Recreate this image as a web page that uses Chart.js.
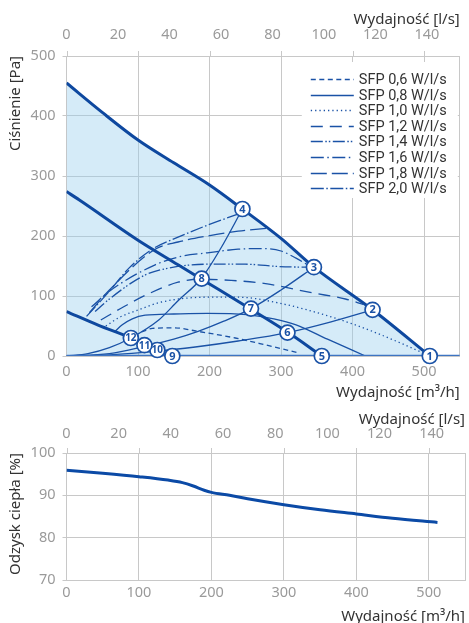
<!DOCTYPE html>
<html lang="pl">
<head>
<meta charset="utf-8">
<title>Wydajność / ciśnienie</title>
<script src="https://cdn.jsdelivr.net/npm/chart.js@4.4.1/dist/chart.umd.min.js"></script>
<style>
    html, body { margin: 0; padding: 0; background: #fff; overflow: hidden; }
    #pressureBox { position: absolute; left: 0; top: 0; width: 469px; height: 405px; }
    #recoveryBox { position: absolute; left: 0; top: 405px; width: 469px; height: 225px; }
</style>
</head>
<body>
<div id="pressureBox"><canvas id="pressureChart" width="469" height="405"></canvas></div>
<div id="recoveryBox"><canvas id="recoveryChart" width="469" height="225"></canvas></div>
<script>
// flow in m3/h, pressure in Pa
const FLOW_MAX = 550;
const LS_FACTOR = 3.6;   // m3/h -> l/s
const flowTicks = [0, 100, 200, 300, 400, 500];
const lsTicks = [0, 20, 40, 60, 80, 100, 120, 140];

// working range limits (thick lines)
const envelope = [[0,455],[50,406],[100,360],[150,322],[200,285],[246,245],[300,196],[346,148],[428,77],[508,0]];
const middleLimit = [[0,274],[18,260],[100,193],[156,152],[189,128],[258,78],[309,40],[357,0]];
const lowerLimit = [[0,74],[45,51],[90,30],[109,18],[127,10],[148,0]];

// system curves (thin solid)
const systemA = [[0,0],[30,4],[60,14],[90,30],[129,60],[156,92],[189,130],[216,180],[246,245]];
const systemB = [[0,0],[60,4],[109,16],[150,28],[184,41],[220,58],[258,79],[300,110],[346,148]];
const systemC = [[0,0],[60,2],[127,8],[180,15],[240,25],[309,39],[370,57],[428,77]];
const zeroLine = [[0,0],[550,0]];

// SFP lines
const sfpLabels = ['SFP 0,6 W/l/s','SFP 0,8 W/l/s','SFP 1,0 W/l/s','SFP 1,2 W/l/s',
                   'SFP 1,4 W/l/s','SFP 1,6 W/l/s','SFP 1,8 W/l/s','SFP 2,0 W/l/s'];
const sfp06 = [[105,40],[120,46],[150,47],[184,41],[236,30],[280,18],[325,5]];
const sfp08 = [[67,40],[78,52],[92,62],[110,68],[150,70],[197,71],[252,69],[290,62],[321,52],[365,28],[418,0]];
const sfp10 = [[55,50],[75,65],[101,77],[133,90],[197,98],[240,98],[298,88],[376,63],[430,40],[505,2]];
const sfp12 = [[48,60],[80,82],[110,101],[156,123],[188,128],[230,126],[276,121],[345,105],[390,95],[415,86]];
const sfp14 = [[40,74],[60,95],[110,135],[150,148],[197,153],[250,153],[298,149],[340,148]];
const sfp16 = [[35,82],[60,108],[124,152],[160,166],[197,172],[240,178],[276,179],[300,175],[321,163],[340,150]];
const sfp18 = [[32,72],[60,110],[124,178],[156,190],[197,200],[240,208],[282,213]];
const sfp20 = [[28,66],[60,108],[87,146],[120,178],[156,198],[197,218],[243,238]];
const sfpSeries = [sfp06, sfp08, sfp10, sfp12, sfp14, sfp16, sfp18, sfp20];
const sfpDashes = [[5,3.5],[],[1.3,3],[12,7],[12,2.5,1.5,2,1.5,2.5],[13,3.5,1.5,3.5],[16,5],[13,2.5,1.5,2.5]];

// numbered operating points
const markerNumbers = [1,2,3,4,5,6,7,8,9,10,11,12];
const markerPoints = [[508,0],[428,77],[346,148],[246,245],[357,0],[309,39],[258,79],[189,129],[148,0],[127,10],[109,18],[90,30]];

// heat recovery [%]
const recovery = [[0,95.9],[50,95.2],[100,94.4],[140,93.6],[160,93.0],[175,92.2],[190,91.2],[200,90.7],
                  [225,90.0],[250,89.2],[300,87.8],[350,86.6],[400,85.6],[450,84.6],[512,83.6]];

const BLUE = '#1a52a6';
const DARK_BLUE = '#0e489f';
const GRID = '#c8c8c8';
const TICK = '#9a9a9a';
const TEXT = '#333333';

Chart.defaults.font.family = "'Noto Sans', 'Open Sans', sans-serif";

const pts = arr => arr.map(p => ({ x: p[0], y: p[1] }));

function line(data, color, width, order, extra) {
    return Object.assign({
        data: pts(data),
        borderColor: color,
        borderWidth: width,
        pointRadius: 0,
        fill: false,
        cubicInterpolationMode: 'monotone',
        order: order
    }, extra || {});
}

// short grid stubs above the plot (m3/h grid lines stick out)
const gridStubs = {
    id: 'gridStubs',
    afterDraw(chart) {
        const { ctx, chartArea, scales } = chart;
        ctx.save();
        ctx.strokeStyle = GRID;
        ctx.lineWidth = 1;
        flowTicks.forEach(v => {
            const px = Math.round(scales.x.getPixelForValue(v)) + 0.5;
            ctx.beginPath();
            ctx.moveTo(px, chartArea.top - 5);
            ctx.lineTo(px, chartArea.top);
            ctx.stroke();
        });
        ctx.restore();
    }
};

// numbers inside the circles + SFP legend box
const pressureExtras = {
    id: 'pressureExtras',
    afterDatasetsDraw(chart) {
        const { ctx } = chart;
        const meta = chart.getDatasetMeta(0);
        ctx.save();
        ctx.fillStyle = BLUE;
        ctx.textAlign = 'center';
        ctx.textBaseline = 'middle';
        meta.data.forEach((el, i) => {
            const n = markerNumbers[i];
            ctx.font = n > 9 ? "bold 10px 'Noto Sans', sans-serif" : "bold 11px 'Noto Sans', sans-serif";
            ctx.fillText(String(n), el.x, el.y + 0.5);
        });
        ctx.restore();
    },
    afterDraw(chart) {
        const { ctx, chartArea } = chart;
        const right = chartArea.right;
        const top = chartArea.top;
        ctx.save();
        ctx.fillStyle = '#fff';
        ctx.fillRect(right - 158, top + 6, 156, 136);
        ctx.font = "14.5px Roboto, 'Noto Sans', sans-serif";
        ctx.textBaseline = 'middle';
        ctx.textAlign = 'left';
        chart.data.datasets.filter(d => d.sfp).forEach((ds, i) => {
            const y = Math.round(top + 23 + i * 15.6) + 0.5;
            ctx.strokeStyle = ds.borderColor;
            ctx.lineWidth = 1.4;
            ctx.setLineDash(ds.borderDash || []);
            ctx.beginPath();
            ctx.moveTo(right - 149, y);
            ctx.lineTo(right - 106, y);
            ctx.stroke();
            ctx.setLineDash([]);
            ctx.fillStyle = TEXT;
            ctx.fillText(ds.label, right - 101, y + 0.5);
        });
        ctx.restore();
    }
};

function xScales(opts) {
    return {
        x: {
            type: 'linear', position: 'bottom', min: 0, max: FLOW_MAX,
            afterFit: s => { s.height = opts.bottomHeight; },
            // tick values from the array, plus the right edge as a frame line
            afterBuildTicks: s => { s.ticks = flowTicks.concat([FLOW_MAX]).map(v => ({ value: v })); },
            grid: { color: GRID, drawTicks: false },
            border: { color: GRID },
            ticks: {
                color: TICK, padding: opts.bottomPad, maxRotation: 0,
                autoSkip: false, font: { size: 14.5 },
                callback: v => (flowTicks.includes(v) ? v : '')
            },
            title: {
                display: true, text: 'Wydajność [m³/h]', align: 'end', color: TEXT,
                font: { size: 15 }, padding: { top: 0, bottom: opts.bottomTitlePad }
            }
        },
        x2: {
            type: 'linear', position: 'top', min: 0, max: FLOW_MAX / LS_FACTOR,
            afterFit: s => { s.height = opts.topHeight; },
            afterBuildTicks: s => { s.ticks = lsTicks.map(v => ({ value: v })); },
            grid: { display: false },
            border: { display: false },
            ticks: {
                color: TICK, padding: opts.topPad, maxRotation: 0,
                autoSkip: false, font: { size: 14.5 }
            },
            title: {
                display: true, text: 'Wydajność [l/s]', align: 'end', color: TEXT,
                font: { size: 15 }, padding: { top: opts.topTitlePad, bottom: 0 }
            }
        }
    };
}

function yScale(min, max, step, title) {
    return {
        type: 'linear', position: 'left', min: min, max: max,
        afterFit: s => { s.width = 66.5; },
        grid: { color: GRID, tickLength: 4 },
        border: { color: GRID },
        ticks: { stepSize: step, color: TICK, padding: 7, font: { size: 14.5 } },
        title: {
            display: true, text: title, align: 'end', color: TEXT,
            font: { size: 15 }, padding: { top: 7, bottom: 0 }
        }
    };
}

const pressureDatasets = [
    {
        label: 'punkty',
        data: pts(markerPoints),
        showLine: false,
        pointRadius: 7.5,
        pointBackgroundColor: '#fff',
        pointBorderColor: BLUE,
        pointBorderWidth: 1.7,
        clip: false,
        order: 0
    },
    line(envelope, DARK_BLUE, 3, 20, { fill: 'origin', backgroundColor: 'rgba(150,205,237,0.4)' }),
    line(middleLimit, DARK_BLUE, 3, 5),
    line(lowerLimit, DARK_BLUE, 3, 5),
    line(zeroLine, '#3d74c2', 2.5, 6),
    line(systemA, BLUE, 1.3, 8),
    line(systemB, BLUE, 1.3, 8),
    line(systemC, BLUE, 1.3, 8)
];
sfpSeries.forEach((s, i) => {
    pressureDatasets.push(line(s, BLUE, 1.3, 9, {
        label: sfpLabels[i], sfp: true, borderDash: sfpDashes[i]
    }));
});

new Chart(document.getElementById('pressureChart'), {
    type: 'line',
    data: { datasets: pressureDatasets },
    options: {
        responsive: false,
        animation: false,
        layout: { padding: { left: 0, right: 4, top: 0, bottom: 0 } },
        plugins: { legend: { display: false }, tooltip: { enabled: false } },
        scales: Object.assign(
            xScales({ bottomHeight: 49, bottomPad: 7, bottomTitlePad: 3, topHeight: 56, topPad: 4, topTitlePad: 11 }),
            { y: yScale(0, 500, 100, 'Ciśnienie [Pa]') }
        )
    },
    plugins: [gridStubs, pressureExtras]
});

new Chart(document.getElementById('recoveryChart'), {
    type: 'line',
    data: {
        datasets: [line(recovery, '#0b4aa6', 3, 1, { label: 'Odzysk ciepła' })]
    },
    options: {
        responsive: false,
        animation: false,
        layout: { padding: { left: 0, right: 4, top: 0, bottom: 0 } },
        plugins: { legend: { display: false }, tooltip: { enabled: false } },
        scales: Object.assign(
            xScales({ bottomHeight: 50, bottomPad: 4, bottomTitlePad: 4, topHeight: 48, topPad: 2, topTitlePad: 6 }),
            { y: yScale(70, 100, 10, 'Odzysk ciepła [%]') }
        )
    },
    plugins: [gridStubs]
});
</script>
</body>
</html>
